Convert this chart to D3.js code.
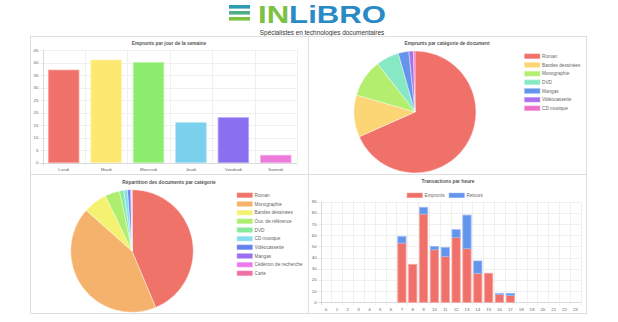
<!DOCTYPE html>
<html><head><meta charset="utf-8">
<script src="https://cdn.jsdelivr.net/npm/d3@7"></script>
<style>body{margin:0;background:#fff}svg{display:block}text{font-family:"Liberation Sans",Arial,Helvetica,sans-serif}</style>
</head><body><svg id="c" width="618" height="322"></svg>
<script>
// ---------- DATA ----------
const days = ["Lundi","Mardi","Mercredi","Jeudi","Vendredi","Samedi"];
const dayLoans = [37,41,40,16,18,3];
const dayColors = ["#f0716a","#fde872","#8dec6e","#7bd0ee","#8a70f0","#ec7adb"];
const dayTicks = [0,5,10,15,20,25,30,35,40,45];

const catLabels = ["Roman","Bandes dessinées","Monographie","DVD","Mangas","Vidéocassette","CD musique"];
const catLoans = [680,111,100,60,28,12,4];
const catColors = ["#f0716a","#fcd674","#b3ee6e","#87e9c3","#6494ec","#a970f0","#ee70cb"];

const docLabels = ["Roman","Monographie","Bandes dessinées","Ouv. de référence","DVD","CD musique","Vidéocassette","Mangas","Cédérom de recherche","Carte"];
const docCounts = [4370,4290,630,390,110,100,80,25,6,4];
const docColors = ["#f0736a","#f5b26c","#f5f271","#aeee6e","#88ea9b","#86ddee","#6480ec","#9a70f0","#ee79ef","#ee70a6"];

const hours = ["0","1","2","3","4","5","6","7","8","9","10","11","12","13","14","15","16","17","18","19","20","21","22","23"];
const hourLoans   = [0,0,0,0,0,0,0,53,34,79,47,41,58,48,26,26,7,6,0,0,0,0,0,0];
const hourReturns = [0,0,0,0,0,0,0,6,0,6,3,8,7,30,11,0,1,2,0,0,0,0,0,0];
const hourTicks = [0,10,20,30,40,50,60,70,80,90];
const seriesNames = ["Emprunts","Retours"];
const seriesColors = ["#f0716a","#6495ed"];

// ---------- SETUP ----------
const svg = d3.select("#c");
const GRID = "#ececec", AXIS = "#d0d0d0", TXT = "#666";
const light = c => { const h = d3.hsl(c); h.l = Math.min(0.93, h.l + 0.12); return h.formatHex(); };

// header / logo
const logo = svg.append("g");
const stripeCols = ["#2e9bb0","#4fae8a","#7cc242"];
[0,1,2].forEach(i => {
  logo.append("rect").attr("x",229).attr("y",5 + i*6).attr("width",21).attr("height",3.6)
    .attr("fill", stripeCols[i]);
});
const lt = logo.append("text").attr("x",258).attr("y",22.5)
  .attr("font-size",24).attr("font-weight","bold")
  .attr("textLength",128).attr("lengthAdjust","spacingAndGlyphs");
lt.append("tspan").attr("fill","#7cc242").text("IN");
lt.append("tspan").attr("fill","#2a8ac6").text("LiBRO");
svg.append("text").attr("x",322).attr("y",34.5).attr("text-anchor","middle")
  .attr("font-size",6.4).attr("fill","#333").text("Spécialistes en technologies documentaires");

// panel borders
const PX = [30,308,586], PY = [36,174,313];
const pg = svg.append("g").attr("stroke","#dedede").attr("stroke-width",1).attr("fill","none");
pg.append("rect").attr("x",PX[0]+0.5).attr("y",PY[0]+0.5).attr("width",PX[2]-PX[0]).attr("height",PY[2]-PY[0]);
pg.append("line").attr("x1",PX[1]+0.5).attr("x2",PX[1]+0.5).attr("y1",PY[0]).attr("y2",PY[2]);
pg.append("line").attr("x1",PX[0]).attr("x2",PX[2]).attr("y1",PY[1]+0.5).attr("y2",PY[1]+0.5);

function title(x,y,t){
  svg.append("text").attr("x",x).attr("y",y).attr("text-anchor","middle")
    .attr("font-size",4.8).attr("font-weight","bold").attr("fill","#555").text(t);
}

function barAxes(g, x, y, ticks, xl, xr, yb, yt){
  // horizontal grid
  g.selectAll(".hg").data(ticks).join("line")
    .attr("x1",xl-3).attr("x2",xr).attr("y1",d=>Math.round(y(d))+0.5).attr("y2",d=>Math.round(y(d))+0.5)
    .attr("stroke",d=>d===0?AXIS:GRID).attr("stroke-width",0.8);
  // vertical grid at band edges
  const edges = x.domain().map(d=>x(d)-x.step()*x.paddingOuter()*0).concat([xr]);
  const step = x.step();
  const eds = d3.range(x.domain().length+1).map(i=>x.range()[0]+i*step);
  g.selectAll(".vg").data(eds).join("line")
    .attr("x1",d=>Math.round(d)+0.5).attr("x2",d=>Math.round(d)+0.5).attr("y1",yt).attr("y2",yb+3)
    .attr("stroke",(d,i)=>i===0?AXIS:GRID).attr("stroke-width",0.8);
  g.selectAll(".yl").data(ticks).join("text")
    .attr("x",xl-4).attr("y",d=>y(d)+1.5).attr("text-anchor","end")
    .attr("font-size",4.4).attr("fill",TXT).text(d=>d);
  g.selectAll(".xl").data(x.domain()).join("text")
    .attr("x",d=>x(d)+x.bandwidth()/2).attr("y",yb+8.6).attr("text-anchor","middle")
    .attr("font-size",4.4).attr("fill",TXT).text(d=>d);
}

// ---------- Chart 1: bar by day ----------
{
  const g = svg.append("g");
  const xl=42.5, xr=297, yb=162.7, yt=50;
  const x = d3.scaleBand().domain(days).range([xl,xr]).paddingInner(0).paddingOuter(0);
  const y = d3.scaleLinear().domain([0,45]).range([yb,yt]);
  barAxes(g,x,y,dayTicks,xl,xr,yb,yt);
  const bw = x.bandwidth()*0.72;
  g.selectAll(".b").data(days).join("rect")
    .attr("x",d=>x(d)+(x.bandwidth()-bw)/2).attr("width",bw)
    .attr("y",(d,i)=>y(dayLoans[i])).attr("height",(d,i)=>y(0)-y(dayLoans[i]))
    .attr("fill",(d,i)=>dayColors[i]).attr("stroke",(d,i)=>light(dayColors[i])).attr("stroke-width",0.8);
  title(169,44.5,"Emprunts par jour de la semaine");
}

// ---------- Pie helper ----------
function pie(cx,cy,r,vals,cols,labels,lx,ly0,dy){
  const g = svg.append("g").attr("transform",`translate(${cx},${cy})`);
  const arcs = d3.pie().sort(null)(vals);
  const arc = d3.arc().innerRadius(0).outerRadius(r);
  g.selectAll("path").data(arcs).join("path").attr("d",arc)
    .attr("fill",(d,i)=>cols[i]).attr("stroke","#fff").attr("stroke-width",0.4);
  const lg = svg.append("g");
  lg.selectAll("rect").data(labels).join("rect")
    .attr("x",lx).attr("y",(d,i)=>ly0+i*dy-2.4).attr("width",15.5).attr("height",4.8)
    .attr("fill",(d,i)=>cols[i]).attr("stroke",(d,i)=>light(cols[i])).attr("stroke-width",0.5);
  lg.selectAll("text").data(labels).join("text")
    .attr("x",lx+17.5).attr("y",(d,i)=>ly0+i*dy+1.6)
    .attr("font-size",4.7).attr("fill",TXT).text(d=>d);
}

// ---------- Chart 2: pie by category ----------
pie(415,112,61,catLoans,catColors,catLabels,524.5,56.3,8.67);
title(447,44.5,"Emprunts par catégorie de document");

// ---------- Chart 3: pie of documents ----------
pie(132,251,61.3,docCounts,docColors,docLabels,237,195.3,8.67);
title(169,183.5,"Répartition des documents par catégorie");

// ---------- Chart 4: stacked bars per hour ----------
{
  const g = svg.append("g");
  const xl=320.6, xr=580.8, yb=302.3, yt=201.7;
  const x = d3.scaleBand().domain(hours).range([xl,xr]).paddingInner(0).paddingOuter(0);
  const y = d3.scaleLinear().domain([0,90]).range([yb,yt]);
  barAxes(g,x,y,hourTicks,xl,xr,yb,yt);
  const rows = hours.map((h,i)=>({h, Emprunts:hourLoans[i], Retours:hourReturns[i]}));
  const stack = d3.stack().keys(seriesNames)(rows);
  const bw = x.bandwidth()*0.76;
  stack.forEach((s,si)=>{
    g.selectAll(".s"+si).data(s.filter(d=>d[1]>d[0])).join("rect")
      .attr("x",d=>x(d.data.h)+(x.bandwidth()-bw)/2).attr("width",bw)
      .attr("y",d=>y(d[1])).attr("height",d=>y(d[0])-y(d[1]))
      .attr("fill",seriesColors[si]).attr("stroke",light(seriesColors[si])).attr("stroke-width",0.8);
  });
  title(448,183,"Transactions par heure");
  const lg = svg.append("g");
  const lxs = [407,449];
  seriesNames.forEach((n,i)=>{
    lg.append("rect").attr("x",lxs[i]).attr("y",193).attr("width",15.5).attr("height",4.8)
      .attr("fill",seriesColors[i]).attr("stroke",light(seriesColors[i])).attr("stroke-width",0.5);
    lg.append("text").attr("x",lxs[i]+17.5).attr("y",197).attr("font-size",4.7).attr("fill",TXT).text(n);
  });
}
</script></body></html>
